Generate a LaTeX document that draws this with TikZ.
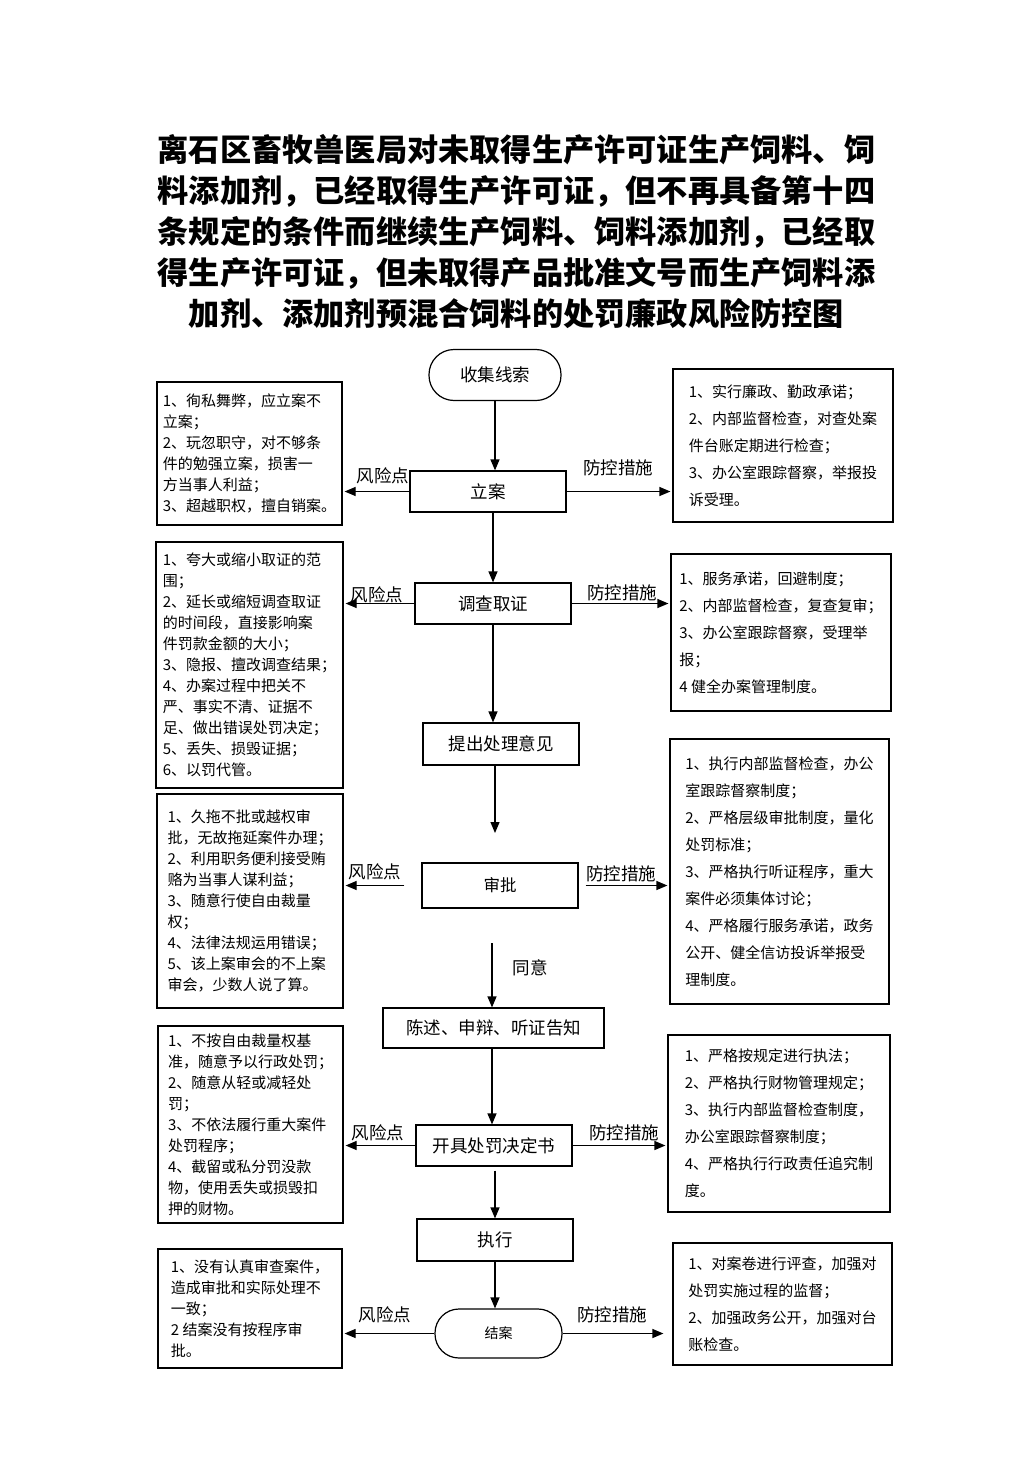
\documentclass[tikz,border=0pt]{standalone}
\usepackage{fontspec}
\setmainfont{Noto Sans CJK SC}
\usetikzlibrary{arrows.meta}

\begin{document}
\begin{tikzpicture}[x=1pt, y=-1pt,
	flow/.style={draw, line width=1.2pt, font=\fontsize{17.5}{21}\selectfont},
	risk/.style={draw, line width=1.2pt, align=left, font=\fontsize{15}{21}\selectfont},
	guard/.style={draw, line width=1.2pt, align=left, font=\fontsize{15}{27}\selectfont},
	tag/.style={inner sep=0pt, font=\fontsize{17.5}{21}\selectfont},
	arr/.style={-{Triangle[length=11pt,width=9pt]}, line width=1.2pt}]
	\fill [white] (0,0) rectangle (1033,1461);
	\useasboundingbox (0,0) rectangle (1033,1461);

	% title
	\node [align=center, inner sep=0pt, font=\bfseries\fontsize{31.2}{41}\selectfont] (title) at (516.5,231.5)
		{离石区畜牧兽医局对未取得生产许可证生产饲料、饲 \\ 料添加剂，已经取得生产许可证，但不再具备第十四 \\
		条规定的条件而继续生产饲料、饲料添加剂，已经取 \\ 得生产许可证，但未取得产品批准文号而生产饲料添 \\
		加剂、添加剂预混合饲料的处罚廉政风险防控图};

	% main flow
	\node [flow, rounded corners=25pt, minimum width=132, minimum height=51] (shouji) at (495,375) {收集线索};
	\node [flow, minimum width=156, minimum height=41] (lian) at (488,491.5) {立案};
	\node [flow, minimum width=156, minimum height=41] (diaocha) at (493,603.5) {调查取证};
	\node [flow, minimum width=156, minimum height=42] (tichu) at (501,744) {提出处理意见};
	\node [flow, minimum width=156, minimum height=45, font=\fontsize{16.5}{20}\selectfont] (shenpi) at (500,885.5) {审批};
	\node [flow, minimum width=221, minimum height=40] (chenshu) at (493.5,1028) {陈述、申辩、听证告知};
	\node [flow, minimum width=156, minimum height=41] (kaiju) at (494,1145.5) {开具处罚决定书};
	\node [flow, minimum width=156, minimum height=42] (zhixing) at (495,1240) {执行};
	\node [flow, rounded corners=24pt, minimum width=127, minimum height=49, font=\fontsize{14}{17}\selectfont] (jiean) at (498.5,1333.5) {结案};

	\coordinate (gap1) at (495,833);
	\coordinate (gap2) at (492,943);

	\draw [arr] (shouji.south) -- (shouji.south |- lian.north);
	\draw [arr] (lian.south -| diaocha.north) -- (diaocha.north);
	\draw [arr] (diaocha.south) -- (diaocha.south |- tichu.north);
	\draw [arr] (tichu.south -| gap1) -- (gap1);
	\draw [arr] (gap2) -- (gap2 |- chenshu.north);
	\node [tag] (tongyi) at (530,968) {同意};
	\draw [arr] (chenshu.south -| 492,0) -- (kaiju.north -| 492,0);
	\draw [arr, shorten <=4pt] (kaiju.south -| zhixing.north) -- (zhixing.north);
	\draw [arr] (zhixing.south) -- (zhixing.south |- jiean.north);

	% risk points
	\node [risk, minimum width=185, minimum height=143] (l1) at (249.5,453.5)
		{1、徇私舞弊，应立案不 \\ 立案； \\ 2、玩忽职守，对不够条 \\ 件的勉强立案，损害一 \\ 方当事人利益； \\ 3、超越职权，擅自销案。};
	\node [risk, minimum width=187, minimum height=246] (l2) at (249.5,665)
		{1、夸大或缩小取证的范 \\ 围； \\ 2、延长或缩短调查取证 \\ 的时间段，直接影响案 \\ 件罚款金额的大小； \\
		3、隐报、擅改调查结果； \\ 4、办案过程中把关不 \\ 严、事实不清、证据不 \\ 足、做出错误处罚决定； \\
		5、丢失、损毁证据； \\ 6、以罚代管。};
	\node [risk, minimum width=186, minimum height=214] (l3) at (250,901)
		{1、久拖不批或越权审 \\ 批，无故拖延案件办理； \\ 2、利用职务便利接受贿 \\ 赂为当事人谋利益； \\
		3、随意行使自由裁量 \\ 权； \\ 4、法律法规运用错误； \\ 5、该上案审会的不上案 \\ 审会，少数人说了算。};
	\node [risk, minimum width=185, minimum height=197] (l4) at (250.5,1124.5)
		{1、不按自由裁量权基 \\ 准，随意予以行政处罚； \\ 2、随意从轻或减轻处 \\ 罚； \\ 3、不依法履行重大案件 \\
		处罚程序； \\ 4、截留或私分罚没款 \\ 物，使用丢失或损毁扣 \\ 押的财物。};
	\node [risk, minimum width=184, minimum height=119] (l5) at (250,1308.5)
		{1、没有认真审查案件， \\ 造成审批和实际处理不 \\ 一致； \\ 2 结案没有按程序审 \\ 批。};

	% control measures
	\node [guard, minimum width=220, minimum height=153] (r1) at (783,445.5)
		{1、实行廉政、勤政承诺； \\ 2、内部监督检查，对查处案 \\ 件台账定期进行检查； \\ 3、办公室跟踪督察，举报投 \\ 诉受理。};
	\node [guard, minimum width=220, minimum height=157] (r2) at (781,632.5)
		{1、服务承诺，回避制度； \\ 2、内部监督检查，复查复审； \\ 3、办公室跟踪督察，受理举 \\ 报； \\ 4 健全办案管理制度。};
	\node [guard, minimum width=219, minimum height=265] (r3) at (779.5,871.5)
		{1、执行内部监督检查，办公 \\ 室跟踪督察制度； \\ 2、严格层级审批制度，量化 \\ 处罚标准； \\
		3、严格执行听证程序，重大 \\ 案件必须集体讨论； \\ 4、严格履行服务承诺，政务 \\ 公开、健全信访投诉举报受 \\ 理制度。};
	\node [guard, minimum width=222, minimum height=177] (r4) at (779,1123.5)
		{1、严格按规定进行执法； \\ 2、严格执行财物管理规定； \\ 3、执行内部监督检查制度， \\ 办公室跟踪督察制度； \\
		4、严格执行行政责任追究制 \\ 度。};
	\node [guard, minimum width=219, minimum height=122] (r5) at (782.5,1304)
		{1、对案卷进行评查，加强对 \\ 处罚实施过程的监督； \\ 2、加强政务公开，加强对台 \\ 账检查。};

	% side arrows
	\draw [arr, shorten >=2pt] (lian.west) -- (lian.west -| l1.east);
	\draw [arr, shorten >=2pt] (lian.east) -- (lian.east -| r1.west);
	\draw [arr, shorten >=2pt] (diaocha.west) -- (diaocha.west -| l2.east);
	\draw [arr, shorten >=2pt] (diaocha.east) -- (diaocha.east -| r2.west);
	\draw [arr, shorten <=17pt, shorten >=2pt] (shenpi.west) -- (shenpi.west -| l3.east);
	\draw [arr, shorten <=7pt, shorten >=2pt] (shenpi.east) -- (shenpi.east -| r3.west);
	\draw [arr, shorten >=2pt] (kaiju.west) -- (kaiju.west -| l4.east);
	\draw [arr, shorten >=2pt] (kaiju.east) -- (kaiju.east -| r4.west);
	\draw [arr, shorten >=2pt] (jiean.west) -- (jiean.west -| l5.east);
	\draw [arr, shorten >=9pt] (jiean.east) -- (jiean.east -| r5.west);

	\node [tag] (risk1) at (383,476) {风险点};
	\node [tag] (ctrl1) at (618,468) {防控措施};
	\node [tag] (risk2) at (377,595) {风险点};
	\node [tag] (ctrl2) at (622,593) {防控措施};
	\node [tag] (risk3) at (375,872) {风险点};
	\node [tag] (ctrl3) at (621,874) {防控措施};
	\node [tag] (risk4) at (378,1133) {风险点};
	\node [tag] (ctrl4) at (624,1133) {防控措施};
	\node [tag] (risk5) at (385,1315) {风险点};
	\node [tag] (ctrl5) at (612,1315) {防控措施};
\end{tikzpicture}
\end{document}
